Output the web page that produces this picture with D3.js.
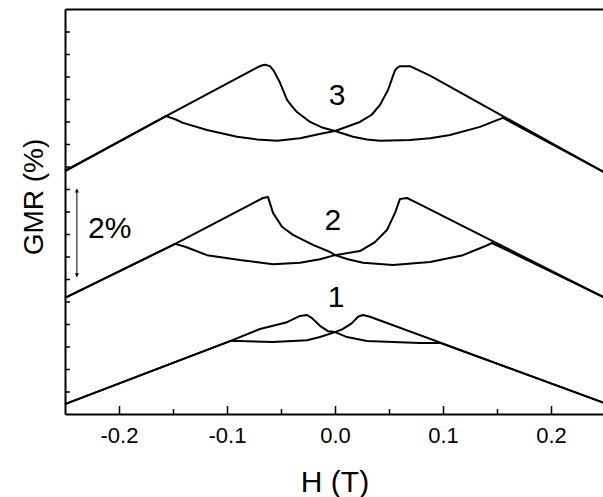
<!DOCTYPE html>
<html>
<head>
<meta charset="utf-8">
<script src="https://cdn.jsdelivr.net/npm/d3@7"></script>
<style>
  body { margin: 0; background: #fff; }
  text { font-family: "Liberation Sans", Arial, sans-serif; fill: #000; }
</style>
</head>
<body>
<div id="chart"></div>
<script>
// field H (T) and GMR (%), two sweep branches per sample
let curve3A = [[-0.25,5.40],[-0.1565,6.62],[-0.0713,7.71],[-0.0672,7.75],[-0.0648,7.76],[-0.0602,7.73],[-0.0565,7.62],[-0.0509,7.36],[-0.0444,6.98],[-0.0400,6.84],[-0.0352,6.71],[-0.0231,6.49],[-0.0111,6.36],[0,6.29],[0.0167,6.16],[0.0296,6.10],[0.0417,6.07],[0.0694,6.09],[0.0880,6.13],[0.1065,6.20],[0.1343,6.38],[0.15,6.53],[0.1556,6.58],[0.25,5.36]];
let curve3B = [[-0.25,5.40],[-0.1565,6.62],[-0.1480,6.55],[-0.1407,6.47],[-0.1185,6.31],[-0.0907,6.16],[-0.0720,6.10],[-0.0537,6.07],[-0.0324,6.13],[-0.0111,6.24],[0,6.29],[0.0231,6.49],[0.0340,6.65],[0.0417,6.87],[0.0491,7.20],[0.0556,7.64],[0.0580,7.70],[0.0602,7.73],[0.0694,7.73],[0.088,7.52],[0.25,5.36]];
let curve2A = [[-0.25,2.58],[-0.148,3.78],[-0.0667,4.80],[-0.062,4.82],[-0.0574,4.47],[-0.0491,4.16],[-0.0389,3.98],[-0.0204,3.76],[-0.0046,3.60],[0,3.53],[0.0120,3.44],[0.0259,3.36],[0.0537,3.31],[0.088,3.38],[0.1185,3.53],[0.137,3.71],[0.1454,3.80],[0.25,2.58]];
let curve2B = [[-0.25,2.58],[-0.148,3.78],[-0.138,3.71],[-0.1185,3.53],[-0.088,3.42],[-0.0574,3.33],[-0.0324,3.36],[-0.0139,3.44],[0,3.53],[0.0231,3.62],[0.0370,3.82],[0.0481,4.09],[0.0556,4.47],[0.0602,4.78],[0.0667,4.80],[0.0759,4.69],[0.25,2.58]];
let curve1A = [[-0.25,0.22],[-0.0972,1.62],[-0.0694,1.89],[-0.0444,2.04],[-0.0324,2.18],[-0.0259,2.20],[-0.0213,2.13],[-0.0139,1.96],[-0.0065,1.84],[0,1.82],[0.0111,1.71],[0.0296,1.62],[0.0537,1.60],[0.0787,1.58],[0.0972,1.58],[0.25,0.24]];
let curve1B = [[-0.25,0.22],[-0.0972,1.62],[-0.0889,1.62],[-0.0574,1.60],[-0.0259,1.64],[-0.0139,1.71],[0,1.82],[0.0074,1.89],[0.0157,2.02],[0.0213,2.16],[0.0259,2.20],[0.0324,2.16],[0.25,0.24]];

let xMajor = [-0.2, -0.1, 0.0, 0.1, 0.2];
let xMinor = [-0.15, -0.05, 0.05, 0.15];
let yTicks = d3.range(0.5, 9, 0.5);

// curve numbers: [text, H, GMR baseline]
let curveLabels = [["3", 0.002, 6.87], ["2", -0.002, 4.09], ["1", 0.001, 2.38]];
// 2% scale bar: H position, from, to
let scaleBar = { h: -0.239, from: 5.0, to: 3.05, text: "2%", textH: -0.2287, textY: 3.91 };

let width = 603, height = 497;
let margin = { top: 9, right: -2, bottom: 83, left: 65 };

let svg = d3.select('#chart').
append('svg').
attr('width', width).
attr('height', height);

let x = d3.scaleLinear().
domain([-0.25, 0.25]).
range([margin.left, width - margin.right]);

let y = d3.scaleLinear().
domain([0, 9]).
range([height - margin.bottom, margin.top]);

// frame: top line
svg.append('g').
attr('transform', 'translate(0,' + margin.top + ')').
call(d3.axisTop(x).tickValues([]).tickSizeOuter(0)).
call(g => g.select('.domain').attr('stroke-width', 2));

// bottom axis, ticks pointing in
svg.append('g').
attr('transform', 'translate(0,' + (height - margin.bottom) + ')').
call(d3.axisBottom(x).tickValues(xMinor).tickSize(-5).tickSizeOuter(0).tickFormat('')).
call(g => g.select('.domain').remove()).
call(g => g.selectAll('line').attr('stroke-width', 1.5));

svg.append('g').
attr('transform', 'translate(0,' + (height - margin.bottom) + ')').
call(d3.axisBottom(x).tickValues(xMajor).tickSize(-8).tickSizeOuter(0).tickPadding(13).
tickFormat(d => d.toFixed(1))).
call(g => g.select('.domain').attr('stroke-width', 2)).
call(g => g.selectAll('line').attr('stroke-width', 1.5)).
call(g => g.selectAll('text').attr('font-size', 22).attr('font-family', '"Liberation Sans", Arial, sans-serif'));

// left axis, no labels
svg.append('g').
attr('transform', 'translate(' + margin.left + ',0)').
call(d3.axisLeft(y).tickValues(yTicks).tickSize(-5).tickSizeOuter(0).tickFormat('')).
call(g => g.select('.domain').attr('stroke-width', 2)).
call(g => g.selectAll('line').attr('stroke-width', 1.5));

// curves
let line = d3.line().
x(d => x(d[0])).
y(d => y(d[1])).
curve(d3.curveLinear);

let curves = [curve3A, curve3B, curve2A, curve2B, curve1A, curve1B];

svg.append('g').
selectAll('path').
data(curves).
enter().
append('path').
attr('d', line).
attr('fill', 'none').
attr('stroke', '#000').
attr('stroke-width', 2).
attr('stroke-linejoin', 'round');

// curve numbers
svg.selectAll('.clabel').
data(curveLabels).
enter().
append('text').
attr('class', 'clabel').
attr('x', d => x(d[1])).
attr('y', d => y(d[2])).
attr('text-anchor', 'middle').
attr('font-size', 30).
text(d => d[0]);

// scale bar with arrows on both ends
let defs = svg.append('defs');
defs.append('marker').
attr('id', 'arrow').
attr('viewBox', '0 0 10 10').
attr('refX', 9).
attr('refY', 5).
attr('markerWidth', 4).
attr('markerHeight', 7).
attr('orient', 'auto-start-reverse').
attr('markerUnits', 'userSpaceOnUse').
append('path').
attr('d', 'M0,0 L10,5 L0,10 z').
attr('fill', '#000');

svg.append('line').
attr('x1', x(scaleBar.h)).
attr('x2', x(scaleBar.h)).
attr('y1', y(scaleBar.from)).
attr('y2', y(scaleBar.to)).
attr('stroke', '#000').
attr('stroke-width', 1).
attr('marker-start', 'url(#arrow)').
attr('marker-end', 'url(#arrow)');

svg.append('text').
attr('x', x(scaleBar.textH)).
attr('y', y(scaleBar.textY)).
attr('font-size', 30).
text(scaleBar.text);

// axis titles
svg.append('text').
attr('x', x(0)).
attr('y', 492).
attr('text-anchor', 'middle').
attr('font-size', 30).
text('H (T)');

svg.append('text').
attr('transform', 'translate(43,' + 197 + ') rotate(-90)').
attr('text-anchor', 'middle').
attr('font-size', 28).
text('GMR (%)');
</script>
</body>
</html>
